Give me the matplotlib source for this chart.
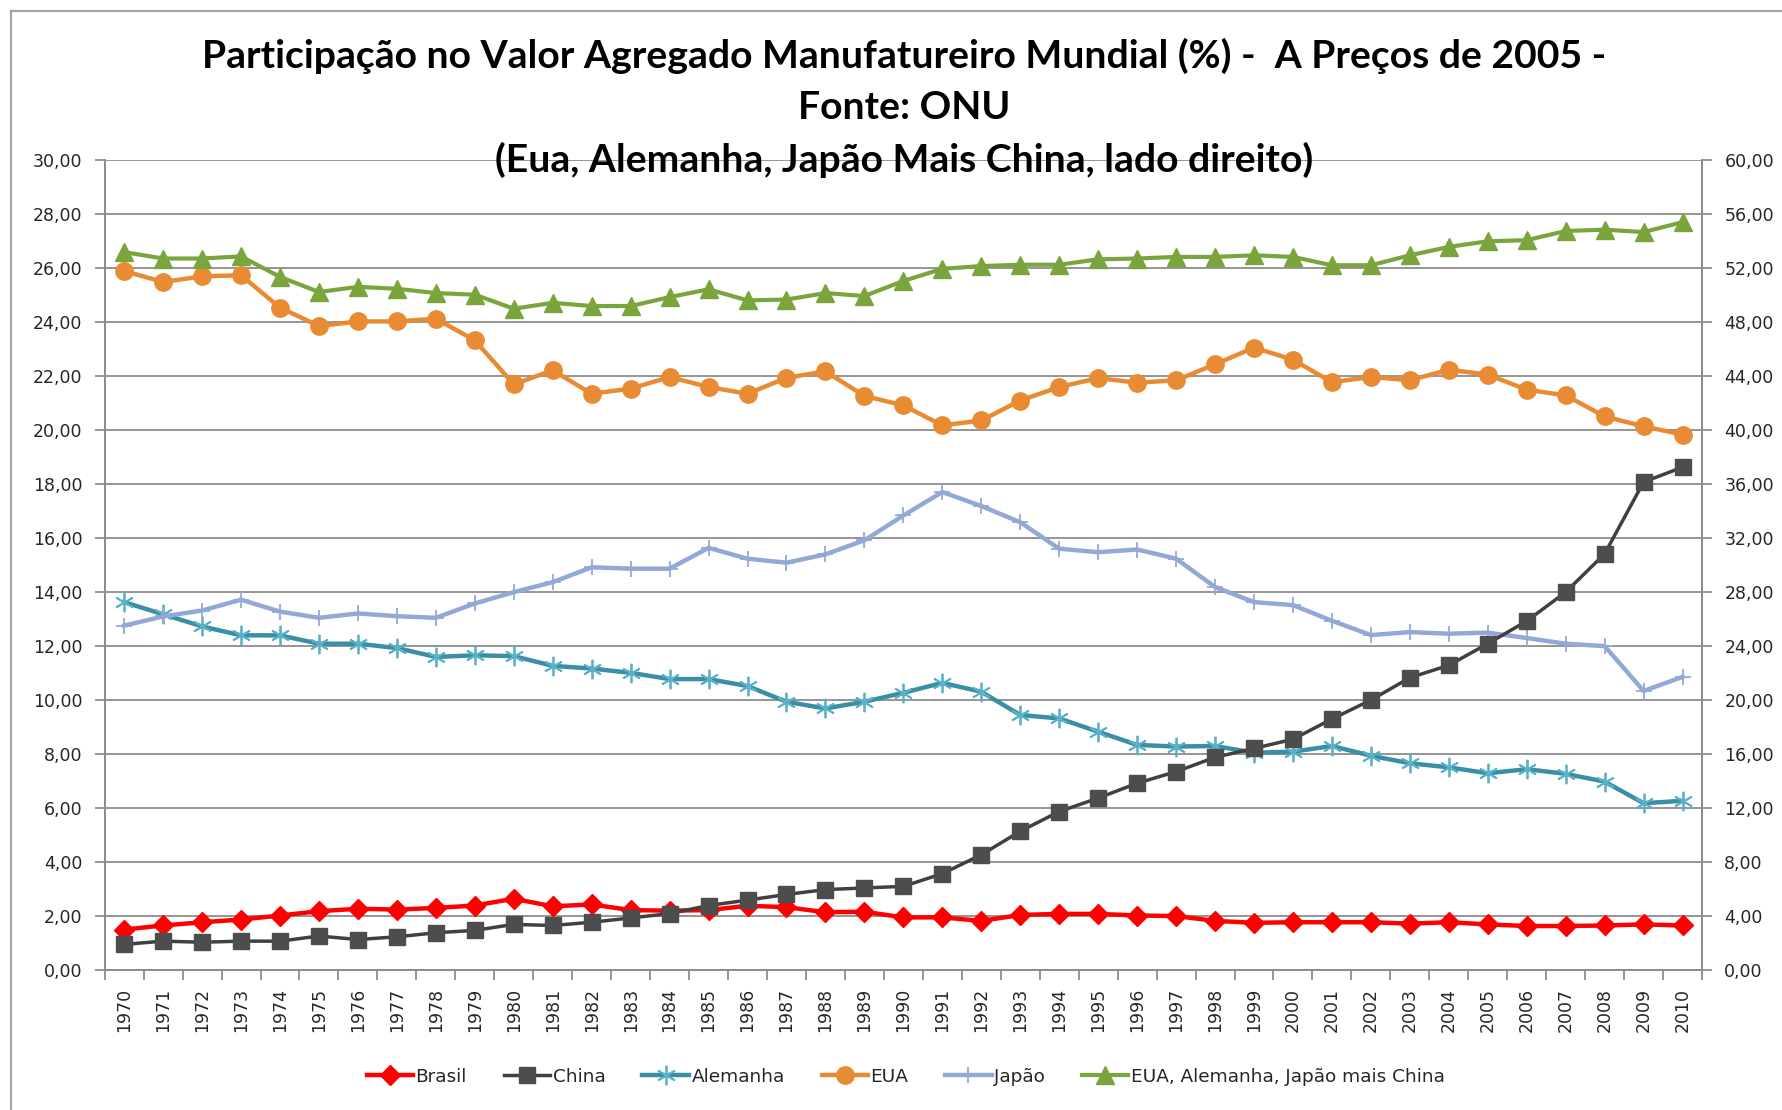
import matplotlib
matplotlib.use("Agg")
import matplotlib.pyplot as plt
from matplotlib.lines import Line2D
import numpy as np

years = [str(y) for y in range(1970, 2011)]

brasil = [1.50, 1.65, 1.77, 1.87, 2.02, 2.18, 2.27, 2.24, 2.30, 2.39, 2.64, 2.36, 2.43,
          2.22, 2.20, 2.22, 2.38, 2.33, 2.14, 2.16, 1.95, 1.95, 1.82, 2.04, 2.08, 2.08,
          2.02, 2.00, 1.82, 1.75, 1.77, 1.77, 1.77, 1.72, 1.77, 1.69, 1.63, 1.63, 1.65,
          1.69, 1.65]
china = [0.95, 1.07, 1.03, 1.07, 1.07, 1.26, 1.13, 1.23, 1.38, 1.47, 1.69, 1.65, 1.77,
         1.93, 2.09, 2.39, 2.59, 2.80, 2.98, 3.04, 3.10, 3.57, 4.27, 5.14, 5.87, 6.37,
         6.92, 7.35, 7.88, 8.21, 8.55, 9.30, 10.00, 10.83, 11.29, 12.09, 12.93, 14.00,
         15.42, 18.08, 18.63]
alemanha = [13.63, 13.18, 12.73, 12.40, 12.40, 12.09, 12.09, 11.93, 11.60, 11.66, 11.63,
            11.27, 11.17, 11.01, 10.78, 10.78, 10.52, 9.94, 9.69, 9.94, 10.27, 10.64,
            10.31, 9.45, 9.32, 8.83, 8.34, 8.28, 8.30, 8.05, 8.09, 8.30, 7.94, 7.66,
            7.51, 7.29, 7.44, 7.27, 6.98, 6.18, 6.27]
eua = [25.90, 25.49, 25.70, 25.74, 24.54, 23.86, 24.03, 24.03, 24.13, 23.33, 21.70,
       22.22, 21.35, 21.54, 21.97, 21.60, 21.35, 21.94, 22.18, 21.27, 20.92, 20.18,
       20.36, 21.10, 21.60, 21.93, 21.76, 21.85, 22.44, 23.06, 22.61, 21.78, 21.97,
       21.85, 22.24, 22.06, 21.50, 21.29, 20.51, 20.14, 19.84]
japao = [12.76, 13.10, 13.32, 13.72, 13.28, 13.05, 13.21, 13.11, 13.05, 13.58, 14.00,
         14.37, 14.92, 14.87, 14.87, 15.64, 15.24, 15.09, 15.40, 15.92, 16.84, 17.71,
         17.19, 16.59, 15.61, 15.48, 15.58, 15.24, 14.19, 13.63, 13.52, 12.94, 12.41,
         12.52, 12.46, 12.50, 12.30, 12.09, 12.00, 10.34, 10.86]
# right axis
soma = [53.20, 52.72, 52.72, 52.88, 51.36, 50.24, 50.62, 50.48, 50.16, 50.04, 49.00,
        49.44, 49.20, 49.20, 49.86, 50.44, 49.62, 49.68, 50.16, 49.94, 51.06, 51.96,
        52.16, 52.26, 52.26, 52.66, 52.72, 52.84, 52.84, 52.96, 52.84, 52.22, 52.22,
        52.96, 53.58, 54.00, 54.08, 54.76, 54.86, 54.68, 55.42]

title_lines = ["Participação no Valor Agregado Manufatureiro Mundial (%) -  A Preços de 2005 -",
               "Fonte: ONU",
               "(Eua, Alemanha, Japão Mais China, lado direito)"]

grid_c = "#8c8c8c"
txt_c = "#262626"
plt.rcParams['font.family'] = ['DejaVu Sans']

fig = plt.figure(figsize=(17.83, 11.10), dpi=100)
ax = fig.add_axes([0.0587, 0.1261, 0.8959, 0.7295])
ax2 = ax.twinx()

x = np.arange(len(years))

ax.plot(x, brasil, color="#ff0000", lw=3.2, marker="D", ms=10, mfc="#ff0000", mec="#ff0000",
        label="Brasil", zorder=3)
ax.plot(x, china, color="#404040", lw=2.5, marker="s", ms=11.5, mfc="#4d4d4d", mec="#4d4d4d",
        label="China", zorder=4)
ax.plot(x, alemanha, color="#3a8ea5", lw=3.2, marker=(6, 2, 0), ms=14, mec="#5ab2c8", mew=1.3,
        label="Alemanha", zorder=3)
ax.plot(x, eua, color="#e98b33", lw=3.2, marker="o", ms=12.5, mfc="#e98b33", mec="#e98b33",
        label="EUA", zorder=3)
ax.plot(x, japao, color="#94a8d8", lw=3.2, marker="+", ms=12, mec="#94a8d8", mew=1.3,
        label="Japão", zorder=3)
ax2.plot(x, soma, color="#7aa53c", lw=3, marker="^", ms=12.5, mfc="#7aa53c", mec="#7aa53c",
         label="EUA, Alemanha, Japão mais China", zorder=3)

ax.set_xlim(-0.5, len(years) - 0.5)
ax.set_ylim(0, 30)
ax2.set_ylim(0, 60)
ax.set_yticks(np.arange(0, 31, 2))
ax2.set_yticks(np.arange(0, 61, 4))
ax.set_yticklabels([("%.2f" % v).replace(".", ",") for v in np.arange(0, 31, 2)])
ax2.set_yticklabels([("%.2f" % v).replace(".", ",") for v in np.arange(0, 61, 4)])

ax.set_xticks(x)
ax.set_xticklabels(years, rotation=90)
ax.set_xticks(np.arange(-0.5, len(years), 1), minor=True)
ax.tick_params(axis="x", which="major", length=0, pad=13, labelsize=12.5, labelcolor=txt_c)
ax.tick_params(axis="x", which="minor", length=7, width=1.3, color=grid_c, direction="out")
ax.tick_params(axis="y", length=7, width=1.3, color=grid_c, pad=9, labelsize=12.5,
               labelcolor=txt_c)
ax2.tick_params(axis="y", length=7, width=1.3, color=grid_c, pad=9, labelsize=12.5,
                labelcolor=txt_c)

ax.grid(axis="y", color=grid_c, lw=1.3)
ax.set_axisbelow(True)
for a in (ax, ax2):
    for s in a.spines.values():
        s.set_color(grid_c)
        s.set_linewidth(1.3)
    a.spines["top"].set_visible(False)

# legend with all series
handles = ax.get_lines() + ax2.get_lines()
fig.legend(handles, [h.get_label() for h in handles], loc="center", ncol=6,
           bbox_to_anchor=(0.508, 0.03), frameon=False, fontsize=13.3,
           handlelength=2.5, handletextpad=0.15, columnspacing=2.0, labelcolor=txt_c)

ys = [0.9385, 0.8925, 0.8453]
for t, yy in zip(title_lines, ys):
    fig.text(0.507, yy, t, ha="center", va="baseline", fontsize=28.2, fontweight="bold",
             family=["Lato", "DejaVu Sans"], color="black", zorder=10)

# outer chart frame
fig.add_artist(Line2D([11 / 1783, 1], [1 - 11 / 1110, 1 - 11 / 1110], color="#a6a6a6", lw=1.6,
                      transform=fig.transFigure))
fig.add_artist(Line2D([11 / 1783, 11 / 1783], [0, 1 - 11 / 1110], color="#a6a6a6", lw=1.6,
                      transform=fig.transFigure))

fig.savefig("out.png", dpi=100)
